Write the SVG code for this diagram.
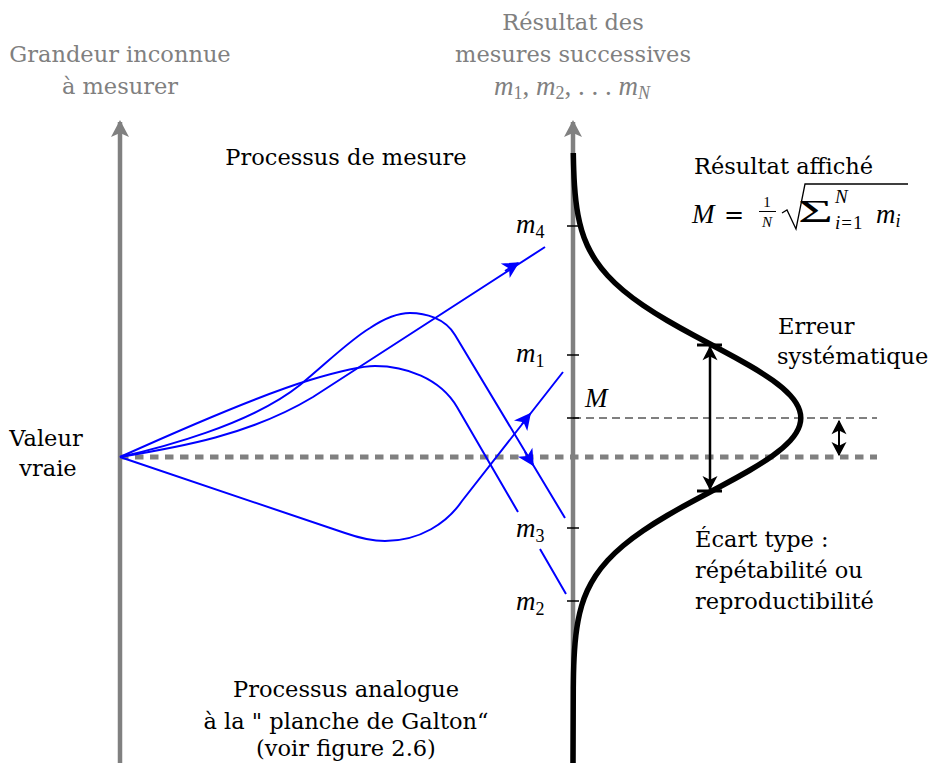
<svg xmlns="http://www.w3.org/2000/svg" width="940" height="763" viewBox="0 0 940 763">
<style>
text{font-family:"DejaVu Serif","Liberation Serif",serif;fill:#000}
.t{font-size:22.5px}
.g{fill:#808080}
.m{font-family:"Liberation Serif",serif;font-style:italic;font-size:27px}
.up{font-family:"Liberation Serif",serif;font-style:normal}
.axis{stroke:#808080;stroke-width:4.5;fill:none}
.blue{stroke:#0000ff;stroke-width:2;fill:none}
.tick{stroke:#000;stroke-width:1.5}
</style>
<defs>
<marker id="ga" markerUnits="userSpaceOnUse" markerWidth="24" markerHeight="24" refX="0" refY="0" viewBox="-20 -12 24 24" orient="auto" overflow="visible">
<path d="M2,0 L-15,-9 L-11,0 L-15,9 Z" fill="#808080"/>
</marker>
<marker id="ba" markerUnits="userSpaceOnUse" markerWidth="24" markerHeight="24" refX="0" refY="0" viewBox="-20 -12 24 24" orient="auto" overflow="visible">
<path d="M1.5,0 L-15,-8.5 L-10.5,0 L-15,8.5 Z" fill="#0000ff"/>
</marker>
<marker id="ka" markerUnits="userSpaceOnUse" markerWidth="20" markerHeight="20" refX="0" refY="0" viewBox="-12 -8 14 16" orient="auto-start-reverse" overflow="visible">
<path d="M1,0 L-10.5,-6 L-7.5,0 L-10.5,6 Z" fill="#000"/>
</marker>
</defs>

<g id="axes">
<path class="axis" d="M120,763 L120,122" marker-end="url(#ga)"/>
<path class="axis" d="M573,763 L573,122" marker-end="url(#ga)"/>
<g class="tick">
<line x1="567" y1="226" x2="579" y2="226"/>
<line x1="567" y1="355" x2="579" y2="355"/>
<line x1="567" y1="418" x2="579" y2="418"/>
<line x1="567" y1="528" x2="579" y2="528"/>
<line x1="567" y1="601" x2="579" y2="601"/>
</g>
</g>

<g id="reference-lines">
<line x1="120" y1="457" x2="877" y2="457" stroke="#808080" stroke-width="5" stroke-dasharray="8.5 6.5"/>
<line x1="573" y1="418" x2="877" y2="418" stroke="#000" stroke-width="1" stroke-dasharray="8 5"/>
</g>

<g id="gaussian">
<path fill="none" stroke="#000" stroke-width="5.5" stroke-linejoin="round" d="M573.3,153 L573.4,158 Q573.5,163 573.75,170.5 Q574,178 574.5,185.5 Q575,193 575.85,200.5 Q576.7,208 578.1,215.5 Q579.5,223 581.7,230.5 Q583.9,238 587.35,245.5 Q590.8,253 595.75,260.5 Q600.7,268 607.55,275.5 Q614.4,283 623.35,290.5 Q632.3,298 643.35,305.5 Q654.4,313 667.25,320.5 Q680.1,328 694.1,335.5 Q708.1,343 722.2,350.5 Q736.3,358 749.35,365.5 Q762.4,373 772.95,380.5 Q783.5,388 790.35,395.5 Q797.2,403 799.6,410.5 Q802,418 799.6,425.5 Q797.2,433 790.35,440.5 Q783.5,448 772.95,455.5 Q762.4,463 749.35,470.5 Q736.3,478 722.2,485.5 Q708.1,493 694.1,500.5 Q680.1,508 667.25,515.5 Q654.4,523 643.35,530.5 Q632.3,538 623.35,545.5 Q614.4,553 607.55,560.5 Q600.7,568 595.75,575.5 Q590.8,583 587.35,590.5 Q583.9,598 581.7,605.5 Q579.5,613 578.1,620.5 Q576.7,628 575.85,635.5 Q575,643 574.5,650.5 Q574,658 573.75,665.5 Q573.5,673 573.4,680.5 L573.3,688 L573,763"/>
</g>

<g id="connectors">
<path class="blue" d="M120,457 C160,448 250,425 300,385 C330,360 350,340 370,328 C385,318 398,313 410,313 C425,313 445,318 455,335 L565,518"/>
<path class="blue" d="M120,457 C180,430 260,395 310,380 C340,371 360,366 375,366 C405,366 440,378 457,407 L518,512 M540,549 L566,594"/>
<path class="blue" d="M120,457 C180,447 250,435 313,397 L545,247"/>
<path class="blue" d="M120,457 L345,533 C365,540 375,541 385,541 C420,541 447,523 462,501 L563,372"/>
<path class="blue" d="M505,271 L518,263" marker-end="url(#ba)"/>
<path class="blue" d="M525,452 L533,465" marker-end="url(#ba)"/>
<path class="blue" d="M522,424 L530,414" marker-end="url(#ba)"/>
<path d="M710,347 L710,489" stroke="#000" stroke-width="2.5" marker-start="url(#ka)" marker-end="url(#ka)"/>
<line x1="697" y1="345" x2="722" y2="345" stroke="#000" stroke-width="3"/>
<line x1="697" y1="491" x2="722" y2="491" stroke="#000" stroke-width="3"/>
<path d="M839,421 L839,455" stroke="#000" stroke-width="2" marker-start="url(#ka)" marker-end="url(#ka)"/>
</g>

<g id="titles">
<text class="t g" x="120" y="62" text-anchor="middle">Grandeur inconnue</text>
<text class="t g" x="120" y="94" text-anchor="middle">à mesurer</text>
<text class="t g" x="573" y="30" text-anchor="middle">Résultat des</text>
<text class="t g" x="573" y="62" text-anchor="middle">mesures successives</text>
<text class="g m" x="572" y="95" text-anchor="middle">m<tspan class="up" font-size="18" dy="4">1</tspan><tspan class="up" dy="-4">, </tspan>m<tspan class="up" font-size="18" dy="4">2</tspan><tspan class="up" dy="-4">, . . . </tspan>m<tspan font-size="18" dy="4">N</tspan></text>
</g>

<g id="labels">
<text class="t" x="346" y="165" text-anchor="middle">Processus de mesure</text>
<text class="t" x="694" y="174">Résultat affiché</text>
<text class="t" x="778" y="334">Erreur</text>
<text class="t" x="777" y="364">systématique</text>
<text class="t" x="46" y="446" text-anchor="middle">Valeur</text>
<text class="t" x="48" y="476" text-anchor="middle">vraie</text>
<text class="t" x="695" y="547">Écart type :</text>
<text class="t" x="695" y="578">répétabilité ou</text>
<text class="t" x="695" y="609">reproductibilité</text>
<text class="t" x="346" y="697" text-anchor="middle">Processus analogue</text>
<text class="t" x="346" y="729" text-anchor="middle">à la " planche de Galton“</text>
<text class="t" x="346" y="756" text-anchor="middle">(voir figure 2.6)</text>
</g>

<g id="ticklabels">
<text class="m" x="516" y="233">m<tspan class="up" font-size="18" dy="5">4</tspan></text>
<text class="m" x="516" y="362">m<tspan class="up" font-size="18" dy="5">1</tspan></text>
<text class="m" x="585" y="407">M</text>
<text class="m" x="516" y="537">m<tspan class="up" font-size="18" dy="5">3</tspan></text>
<text class="m" x="516" y="610">m<tspan class="up" font-size="18" dy="5">2</tspan></text>
</g>

<g id="formula">
<text class="m" x="692" y="223">M</text>
<text x="724" y="223" style="font-size:24px">=</text>
<text class="up" x="767" y="207" style="font-size:15px" text-anchor="middle">1</text>
<line x1="759" y1="211.5" x2="776" y2="211.5" stroke="#000" stroke-width="1"/>
<text class="m" x="767" y="227" style="font-size:15px" text-anchor="middle">N</text>
<polyline fill="none" stroke="#000" stroke-width="1.3" stroke-linejoin="miter" points="782,213 787,210 796,229 805,184 908,184"/>
<text class="up" x="798" y="222" style="font-size:31px" textLength="35" lengthAdjust="spacingAndGlyphs">Σ</text>
<text class="m" x="835" y="203" style="font-size:19px">N</text>
<text class="m" x="835" y="229" style="font-size:19px">i<tspan class="up" dx="1">=</tspan><tspan class="up" dx="1">1</tspan></text>
<text class="m" x="876" y="223">m<tspan font-size="18" dy="4">i</tspan></text>
</g>
</svg>
